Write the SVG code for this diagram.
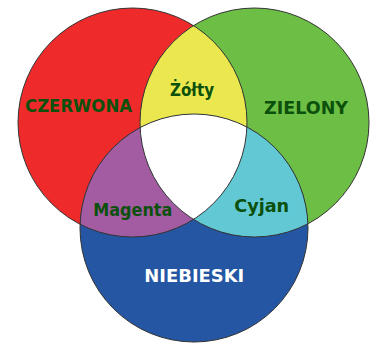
<svg xmlns="http://www.w3.org/2000/svg" width="373" height="343" viewBox="0 0 373 343">
<style>
.lbl{font-family:"DejaVu Sans",sans-serif;font-weight:bold;font-size:18.5px;text-anchor:middle;fill:#0b500b}
.w{fill:#ffffff}
.ol{fill:none;stroke:#333;stroke-width:1}
</style>
<defs>
<circle id="cR" cx="132.5" cy="122.5" r="114.5"/>
<circle id="cG" cx="254.5" cy="122.5" r="114.5"/>
<circle id="cB" cx="194" cy="228" r="114"/>
<clipPath id="clipR"><use href="#cR"/></clipPath>
<clipPath id="clipG"><use href="#cG"/></clipPath>
<clipPath id="clipB"><use href="#cB"/></clipPath>
</defs>
<rect width="373" height="343" fill="#ffffff"/>
<g id="red"><use href="#cR" fill="#ee2a2b"/></g>
<g id="green"><use href="#cG" fill="#6cbe45"/></g>
<g id="blue"><use href="#cB" fill="#2456a3"/></g>
<g id="yellow" clip-path="url(#clipR)"><use href="#cG" fill="#ebe84f"/></g>
<g id="magenta" clip-path="url(#clipR)"><use href="#cB" fill="#a35ba2"/></g>
<g id="cyan" clip-path="url(#clipG)"><use href="#cB" fill="#62c9d4"/></g>
<g id="white" clip-path="url(#clipR)"><g clip-path="url(#clipG)"><use href="#cB" fill="#ffffff"/></g></g>
<g id="outlines">
<use href="#cR" class="ol"/>
<use href="#cG" class="ol"/>
<use href="#cB" class="ol"/>
</g>
<g id="labels">
<text class="lbl" x="78.5" y="111.7" textLength="107" lengthAdjust="spacingAndGlyphs">CZERWONA</text>
<text class="lbl" x="192" y="95.5" textLength="44" lengthAdjust="spacingAndGlyphs">Żółty</text>
<text class="lbl" x="306" y="114" textLength="84" lengthAdjust="spacingAndGlyphs">ZIELONY</text>
<text class="lbl" x="132.8" y="215.7" textLength="79" lengthAdjust="spacingAndGlyphs">Magenta</text>
<text class="lbl" x="261.7" y="211.7" textLength="55" lengthAdjust="spacingAndGlyphs">Cyjan</text>
<text class="lbl w" x="194.3" y="282.3" textLength="100" lengthAdjust="spacingAndGlyphs">NIEBIESKI</text>
</g>
</svg>
